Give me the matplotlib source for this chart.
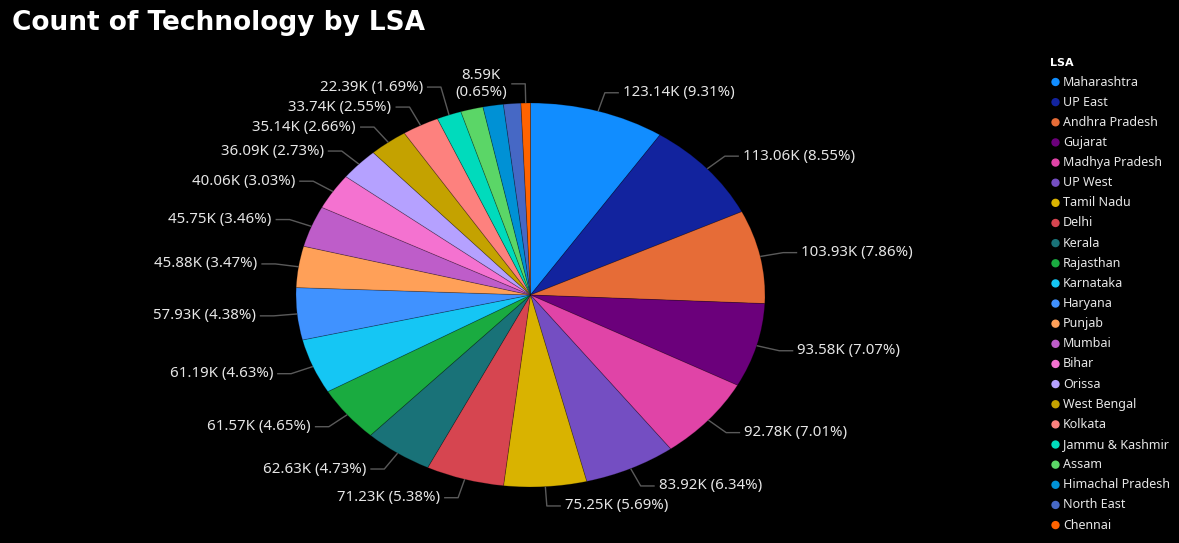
import numpy as np
import matplotlib
matplotlib.use('Agg')
import matplotlib.pyplot as plt

# data
lsa = ['Maharashtra', 'UP East', 'Andhra Pradesh', 'Gujarat', 'Madhya Pradesh',
       'UP West', 'Tamil Nadu', 'Delhi', 'Kerala', 'Rajasthan', 'Karnataka',
       'Haryana', 'Punjab', 'Mumbai', 'Bihar', 'Orissa', 'West Bengal', 'Kolkata',
       'Jammu & Kashmir', 'Assam', 'Himachal Pradesh', 'North East', 'Chennai']
counts_k = [123.14, 113.06, 103.93, 93.58, 92.78, 83.92, 75.25, 71.23, 62.63,
            61.57, 61.19, 57.93, 45.88, 45.75, 40.06, 36.09, 35.14, 33.74, 22.39,
            20.50, 18.60, 15.80, 8.59]
pct_labels = [9.31, 8.55, 7.86, 7.07, 7.01, 6.34, 5.69, 5.38, 4.73, 4.65, 4.63,
              4.38, 3.47, 3.46, 3.03, 2.73, 2.66, 2.55, 1.69, None, None, None, 0.65]
colors = ['#118DFF', '#12239E', '#E66C37', '#6B007B', '#E044A7', '#744EC2',
          '#D9B300', '#D64550', '#197278', '#1AAB40', '#15C6F4', '#4092FF',
          '#FFA058', '#BE5DC9', '#F472D0', '#B5A1FF', '#C4A200', '#FD817E',
          '#00DBBC', '#5BD667', '#0091D5', '#4668C5', '#FF6300']

W, H = 1179, 543
CX, CY = 530.5, 295.0     # pie centre in pixels (from top-left)
RX, RY = 234.5, 192.0     # pie radii in pixels (visual is stretched)

TXT = '#e6e6e6'
LINE = '#5a5a5a'
FONT = 'Noto Sans'


def main():
    fig = plt.figure(figsize=(W / 100, H / 100), dpi=100, facecolor='black')
    ax = fig.add_axes([0, 0, 1, 1])
    ax.set_facecolor('black')

    wedges, _ = ax.pie(counts_k, colors=colors, startangle=90, counterclock=False,
                       radius=1.0, center=(0, 0),
                       wedgeprops=dict(edgecolor=(0, 0, 0, 0.25), linewidth=0.6))
    ax.set_aspect('auto')
    ax.set_xlim(-CX / RX, (W - CX) / RX)
    ax.set_ylim(-(H - CY) / RY, CY / RY)
    ax.axis('off')

    seg = 14 / RX
    gap = 4 / RX
    min_dy = 20 / RY

    # label anchors: radius 1.1, then push apart vertically per side
    items = []
    for i, w in enumerate(wedges):
        if pct_labels[i] is None:
            continue
        th = np.deg2rad((w.theta1 + w.theta2) / 2)
        items.append(dict(i=i, c=np.cos(th), s=np.sin(th),
                          ex=1.1 * np.cos(th), ey=1.1 * np.sin(th)))

    top = [it for it in items if abs(it['c']) < 0.05]
    left = sorted([it for it in items if it['c'] <= -0.05], key=lambda d: d['ey'])
    right = sorted([it for it in items if it['c'] >= 0.05], key=lambda d: -d['ey'])

    for k in range(1, len(left)):
        if left[k]['ey'] < left[k - 1]['ey'] + min_dy:
            left[k]['ey'] = left[k - 1]['ey'] + min_dy
    for k in range(1, len(right)):
        if right[k]['ey'] > right[k - 1]['ey'] - min_dy:
            right[k]['ey'] = right[k - 1]['ey'] - min_dy

    for it in left + right + top:
        i = it['i']
        label = f'{counts_k[i]:.2f}K ({pct_labels[i]:.2f}%)'
        side = 1 if it['c'] > 0 else -1
        if it in top:
            label = label.replace(' ', '\n')
        x_end = it['ex'] + side * seg
        ax.plot([it['c'], it['ex'], x_end], [it['s'], it['ey'], it['ey']],
                color=LINE, linewidth=1.0, solid_capstyle='butt')
        ax.text(x_end + side * gap, it['ey'], label, color=TXT, fontsize=10.8,
                family=FONT, ha='left' if side > 0 else 'right', va='center',
                multialignment='center', linespacing=1.2)

    # title
    fig.text(12 / W, 1 - 23 / H, 'Count of Technology by LSA', color='white',
             fontsize=19, fontweight='bold', family='DejaVu Sans',
             ha='left', va='center')

    # legend
    fig.text(1050 / W, 1 - 63 / H, 'LSA', color='white', fontsize=8,
             fontweight='bold', family='DejaVu Sans', ha='left', va='center')
    ys = [1 - (82 + i * 20.14) / H for i in range(len(lsa))]
    ax.scatter([1055.5 / W] * len(lsa), ys, s=36, c=colors, linewidths=0,
               transform=fig.transFigure, clip_on=False)
    for i, name in enumerate(lsa):
        fig.text(1063 / W, ys[i], name, color=TXT, fontsize=9, family=FONT,
                 ha='left', va='center')

    fig.savefig('out.png', dpi=100, facecolor='black')


if __name__ == '__main__':
    main()
